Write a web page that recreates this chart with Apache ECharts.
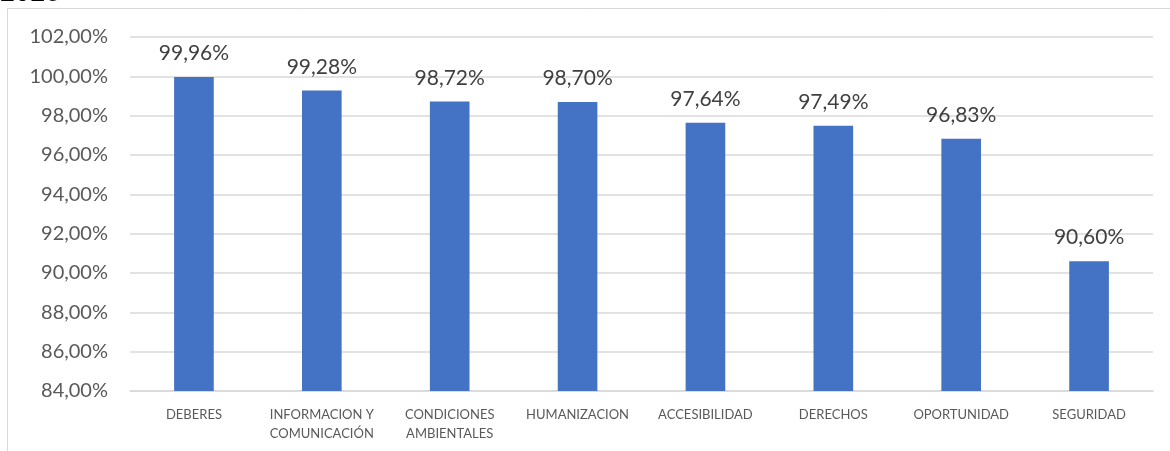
<!DOCTYPE html>
<html><head><meta charset="utf-8">
<script src="https://cdn.jsdelivr.net/npm/echarts@6/dist/echarts.min.js"></script>
<style>html,body{margin:0;padding:0;background:#fff}#c{width:1170px;height:451px}</style>
</head><body><div id="c"></div>
<script>
const categories = ['DEBERES','INFORMACION Y\nCOMUNICACIÓN','CONDICIONES\nAMBIENTALES','HUMANIZACION','ACCESIBILIDAD','DERECHOS','OPORTUNIDAD','SEGURIDAD'];
const values = [99.96, 99.28, 98.72, 98.70, 97.64, 97.49, 96.83, 90.60];
const yMin = 84, yMax = 102, yStep = 2;
const title = '2023';
const fmt = v => v.toFixed(2).replace('.', ',') + '%';
const FONT = 'Lato';
const chart = echarts.init(document.getElementById('c'));
chart.setOption({
  animation: false,
  backgroundColor: '#fff',
  graphic: [
    {type:'rect', shape:{x:7.5,y:8.5,width:1200,height:500}, style:{fill:'none', stroke:'#d9d9d9', lineWidth:1}},
    {type:'text', left:0, top:-20, style:{text:title, fontSize:26, fontFamily:FONT, fill:'#000'}}
  ],
  grid: {left:130, right:17, top:37, bottom:60, containLabel:false},
  xAxis: {
    type:'category', data:categories,
    axisLine:{lineStyle:{color:'#d9d9d9', width:1.5}},
    axisTick:{show:false},
    axisLabel:{interval:0, color:'#595959', fontSize:13, fontFamily:FONT, margin:14, lineHeight:19}
  },
  yAxis: {
    type:'value', min:yMin, max:yMax, interval:yStep,
    axisLine:{show:false}, axisTick:{show:false},
    splitLine:{lineStyle:{color:'#d9d9d9', width:1.5}},
    axisLabel:{color:'#595959', fontSize:20, fontFamily:FONT, margin:22, formatter: v => fmt(v)}
  },
  series: [{
    type:'bar', data:values, barWidth:'31%',
    itemStyle:{color:'#4472c4'},
    label:{show:true, position:'top', distance:13, color:'#404040', fontSize:21, fontFamily:FONT, formatter: p => fmt(p.value)}
  }]
});
</script></body></html>
